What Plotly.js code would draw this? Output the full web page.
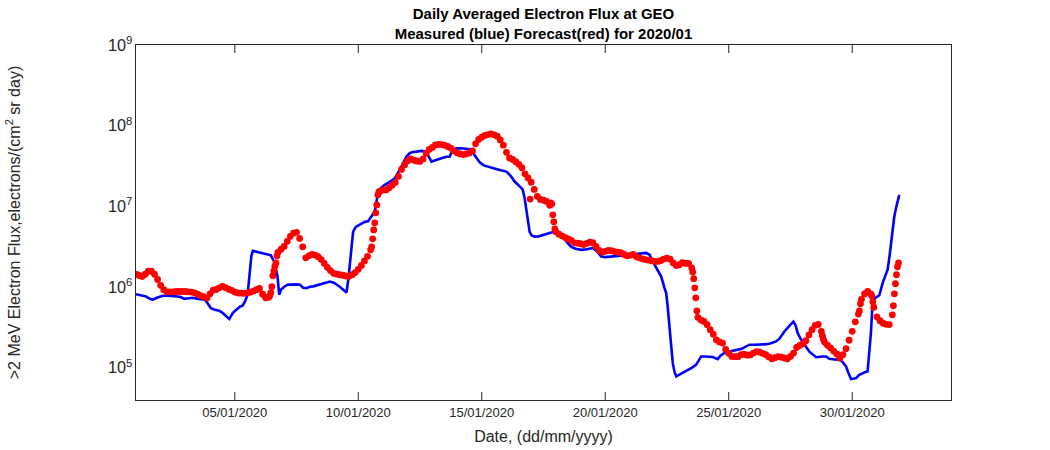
<!DOCTYPE html>
<html>
<head>
<meta charset="utf-8">
<script src="https://cdn.plot.ly/plotly-3.0.1.min.js"></script>
<style>html,body{margin:0;padding:0;background:#fff;}#chart{width:1050px;height:450px;}</style>
</head>
<body>
<div id="chart"></div>
<script>
// Measured flux (blue): day-of-January (fractional, 1.0 = 01/01 00:00) and value
var blueDays = [1.000,1.283,1.405,1.566,1.676,1.850,2.080,2.294,2.618,2.780,
2.954,3.104,3.294,3.468,3.698,3.791,3.913,4.034,4.196,4.370,
4.479,4.641,4.774,4.924,5.045,5.207,5.316,5.409,5.519,5.571,
5.632,5.672,5.733,5.895,6.125,6.299,6.461,6.595,6.663,6.732,
6.797,6.866,6.999,7.149,7.270,7.363,7.513,7.634,7.768,7.905,
8.039,8.172,8.322,8.512,8.686,8.848,9.010,9.252,9.374,9.523,
9.596,9.657,9.718,9.791,9.900,10.061,10.264,10.397,10.506,10.668,
10.749,10.802,10.911,11.073,11.275,11.477,11.680,11.801,11.951,12.084,
12.206,12.355,12.557,12.691,12.812,12.962,13.136,13.366,13.540,13.702,
13.836,13.985,14.175,14.350,14.511,14.645,14.794,14.916,15.078,15.252,
15.482,15.725,15.846,15.996,16.170,16.332,16.494,16.655,16.736,16.805,
16.878,16.939,17.019,17.141,17.303,17.477,17.667,17.816,17.950,18.071,
18.221,18.354,18.476,18.625,18.799,19.030,19.244,19.499,19.689,19.839,
20.013,20.308,20.579,20.822,20.984,21.307,21.659,21.793,21.926,22.076,
22.266,22.400,22.468,22.521,22.602,22.683,22.735,22.804,22.873,23.006,
23.140,23.290,23.411,23.532,23.682,23.775,23.884,24.058,24.220,24.354,
24.556,24.665,24.827,25.029,25.231,25.502,25.676,25.838,26.040,26.243,
26.445,26.647,26.769,26.918,27.052,27.254,27.456,27.618,27.699,27.792,
27.901,27.994,28.144,28.265,28.536,28.670,28.804,28.941,29.074,29.277,
29.479,29.600,29.750,29.843,29.952,30.045,30.155,30.288,30.409,30.559,
30.624,30.693,30.761,30.826,30.935,31.028,31.097,31.231,31.340,31.433,
31.502,31.570,31.623,31.704,31.785,31.906];
var blueFlux = [8.14e5,7.79e5,7.63e5,7.15e5,6.95e5,7.36e5,7.79e5,7.83e5,7.68e5,7.57e5,
7.15e5,7.25e5,7.36e5,7.19e5,6.95e5,6.95e5,6.20e5,5.48e5,5.23e5,5.08e5,
4.87e5,4.41e5,4.01e5,4.80e5,5.23e5,5.70e5,5.86e5,6.57e5,8.03e5,1.13e6,
1.73e6,2.44e6,2.81e6,2.73e6,2.65e6,2.58e6,2.47e6,2.06e6,1.64e6,1.34e6,
8.03e5,9.24e5,1.01e6,1.07e6,1.07e6,1.08e6,1.08e6,1.07e6,9.79e5,9.70e5,
1.01e6,1.02e6,1.05e6,1.07e6,1.13e6,1.17e6,1.13e6,1.01e6,9.37e5,8.57e5,
1.23e6,1.98e6,3.06e6,4.83e6,5.57e6,5.90e6,6.43e6,6.52e6,7.21e6,8.61e6,
1.20e7,1.46e7,1.69e7,1.85e7,2.01e7,2.23e7,2.83e7,3.36e7,4.14e7,4.56e7,
4.73e7,4.77e7,4.87e7,4.80e7,4.35e7,3.59e7,3.71e7,3.95e7,4.10e7,4.14e7,
5.11e7,5.23e7,5.26e7,5.15e7,5.11e7,4.60e7,3.99e7,3.51e7,3.22e7,3.09e7,
2.96e7,2.83e7,2.79e7,2.70e7,2.39e7,2.03e7,1.82e7,1.62e7,1.27e7,9.06e6,
6.43e6,4.83e6,4.37e6,4.22e6,4.25e6,4.44e6,4.63e6,4.73e6,4.83e6,4.57e6,
4.22e6,3.96e6,3.53e6,3.15e6,2.98e6,2.89e6,2.94e6,3.04e6,2.73e6,2.39e6,
2.35e6,2.39e6,2.47e6,2.51e6,2.51e6,2.58e6,2.65e6,2.51e6,2.07e6,1.73e6,
1.35e6,9.70e5,8.40e5,6.03e5,3.13e5,1.67e5,1.14e5,8.92e4,7.80e4,8.19e4,
8.60e4,9.18e4,9.58e4,1.01e5,1.09e5,1.24e5,1.38e5,1.38e5,1.37e5,1.36e5,
1.28e5,1.41e5,1.53e5,1.60e5,1.64e5,1.70e5,1.82e5,1.93e5,1.93e5,1.93e5,
1.95e5,1.98e5,2.04e5,2.12e5,2.29e5,2.81e5,3.31e5,3.74e5,3.41e5,2.69e5,
2.32e5,2.12e5,1.77e5,1.58e5,1.35e5,1.37e5,1.38e5,1.38e5,1.29e5,1.27e5,
1.26e5,1.19e5,1.04e5,8.67e4,7.24e4,7.31e4,7.45e4,8.19e4,8.55e4,8.92e4,
9.00e4,1.45e5,2.79e5,6.76e5,7.36e5,7.63e5,7.91e5,1.12e6,1.38e6,1.64e6,
2.30e6,3.63e6,4.83e6,7.48e6,9.86e6,1.39e7];

// Forecast flux (red): 3-hourly values starting 01/01/2020 00:00 (one row per day)
var redStepHours = 3;
var redFlux = [
1.44e6,1.39e6,1.35e6,1.44e6,1.57e6,1.57e6,1.44e6,1.24e6,
1.05e6,9.29e5,8.73e5,8.73e5,8.73e5,8.80e5,8.80e5,8.80e5,
8.80e5,8.73e5,8.66e5,8.48e5,8.14e5,7.83e5,7.57e5,7.29e5,
8.25e5,9.12e5,9.32e5,9.79e5,1.02e6,9.84e5,9.42e5,9.10e5,
8.66e5,8.45e5,8.40e5,8.37e5,8.48e5,8.63e5,8.90e5,9.29e5,
9.60e5,8.14e5,7.36e5,7.47e5,1.01e6,1.81e6,2.69e6,2.95e6,
3.18e6,3.69e6,4.25e6,4.67e6,4.77e6,4.01e6,3.15e6,2.30e6,
2.44e6,2.53e6,2.49e6,2.38e6,2.19e6,1.96e6,1.75e6,1.60e6,
1.48e6,1.45e6,1.42e6,1.40e6,1.37e6,1.36e6,1.42e6,1.51e6,
1.66e6,1.85e6,2.11e6,2.40e6,2.89e6,5.11e6,1.04e7,1.53e7,
1.60e7,1.60e7,1.70e7,1.83e7,1.98e7,2.35e7,2.87e7,3.26e7,
3.66e7,3.87e7,3.73e7,3.65e7,3.61e7,3.87e7,4.53e7,5.08e7,
5.37e7,5.78e7,5.86e7,5.81e7,5.73e7,5.52e7,5.28e7,4.87e7,
4.61e7,4.47e7,4.39e7,4.46e7,4.60e7,4.87e7,5.95e7,6.76e7,
7.20e7,7.57e7,7.75e7,7.91e7,7.70e7,7.42e7,6.66e7,5.74e7,
4.68e7,3.99e7,3.82e7,3.58e7,3.32e7,3.01e7,2.53e7,2.25e7,
1.99e7,1.62e7,1.33e7,1.22e7,1.19e7,1.15e7,1.03e7,7.86e6,
4.83e6,4.52e6,4.31e6,4.10e6,3.94e6,3.78e6,3.53e6,3.50e6,
3.45e6,3.36e6,3.48e6,3.61e6,3.55e6,3.20e6,2.84e6,2.71e6,
2.77e6,2.84e6,2.82e6,2.75e6,2.71e6,2.67e6,2.55e6,2.44e6,
2.47e6,2.53e6,2.39e6,2.30e6,2.24e6,2.19e6,2.15e6,2.12e6,
2.08e6,2.08e6,2.13e6,2.22e6,2.28e6,2.22e6,1.99e6,1.85e6,
1.89e6,2.01e6,1.96e6,1.97e6,1.73e6,9.79e5,4.22e5,3.90e5,
3.75e5,3.42e5,2.96e5,2.60e5,2.22e5,2.09e5,2.02e5,1.69e5,
1.51e5,1.38e5,1.37e5,1.37e5,1.45e5,1.47e5,1.43e5,1.44e5,
1.52e5,1.58e5,1.56e5,1.51e5,1.45e5,1.36e5,1.29e5,1.33e5,
1.37e5,1.35e5,1.32e5,1.29e5,1.38e5,1.52e5,1.78e5,1.89e5,
1.97e5,2.16e5,2.55e5,2.96e5,3.35e5,3.44e5,2.83e5,2.08e5,
1.90e5,1.76e5,1.61e5,1.48e5,1.32e5,1.45e5,1.72e5,2.19e5,
2.83e5,3.71e5,4.63e5,7.05e5,8.21e5,8.86e5,8.25e5,5.62e5,
4.28e5,3.82e5,3.56e5,3.45e5,3.43e5,4.53e5,1.10e6,1.99e6];

// Extra hourly forecast points on the steep stretches (day-of-January, value)
var redExtraDays = [6.417,6.458,6.542,6.583,6.667,6.708,
10.542,10.583,10.667,10.708,10.792,10.833,
16.958,17.792,17.833,17.917,17.958,
23.542,23.583,23.667,23.708,
28.792,28.833,
30.292,30.333,30.792,30.833,
31.667,31.708,31.792,31.833];
var redExtraFlux = [7.79e5,8.48e5,1.38e6,1.59e6,1.99e6,2.44e6,
3.15e6,3.96e6,6.25e6,8.32e6,1.39e7,1.51e7,
1.23e7,1.10e7,1.07e7,6.43e6,5.27e6,
1.54e6,1.27e6,7.36e5,5.08e5,
2.49e5,2.25e5,
5.08e5,6.20e5,7.79e5,6.57e5,
5.86e5,8.25e5,1.42e6,1.78e6];

var tickDays = [5,10,15,20,25,30];
var tickLabels = ['05/01/2020','10/01/2020','15/01/2020','20/01/2020','25/01/2020','30/01/2020'];

var DAY = 86400000;
var T0 = Date.UTC(2020,0,1);
function dayToMs(d){ return T0 + (d-1)*DAY; }

var blueX = blueDays.map(dayToMs);
var redX = redFlux.map(function(v,i){ return T0 + i*redStepHours*3600000; });
redX = redX.concat(redExtraDays.map(dayToMs));
var redY = redFlux.concat(redExtraFlux);

var FONT = 'Liberation Sans, Arial, Helvetica, sans-serif';
var AX = '#262626';
var YRANGE = [4.6, 9];
var PW = 815, PH = 355; // plot area size in px

// Tick marks (MATLAB style, inside, on all four sides) as shapes
var shapes = [];
function hTick(logv, len){
  shapes.push({type:'line', xref:'paper', yref:'y', x0:0, x1:len/PW, y0:logv, y1:logv, line:{color:AX, width:1}});
  shapes.push({type:'line', xref:'paper', yref:'y', x0:1-len/PW, x1:1, y0:logv, y1:logv, line:{color:AX, width:1}});
}
for (var e = 4; e <= 9; e++) {
  if (e >= 5) hTick(e, 8);
  for (var m = 2; m <= 9; m++) {
    var lv = e + Math.log10(m);
    if (lv > YRANGE[0] && lv < YRANGE[1]) hTick(lv, 4);
  }
}
tickDays.forEach(function(d){
  var xv = dayToMs(d);
  shapes.push({type:'line', xref:'x', yref:'paper', x0:xv, x1:xv, y0:0, y1:8/PH, line:{color:AX, width:1}});
  shapes.push({type:'line', xref:'x', yref:'paper', x0:xv, x1:xv, y0:1-8/PH, y1:1, line:{color:AX, width:1}});
});

var traces = [
 {x: blueX, y: blueFlux, type:'scatter', mode:'lines', line:{color:'#0000ff', width:2.6}, hoverinfo:'skip', showlegend:false},
 {x: redX, y: redY, type:'scatter', mode:'markers', marker:{color:'#ff0000', size:6.8, line:{width:0}}, hoverinfo:'skip', showlegend:false}
];

var layout = {
 width:1050, height:450,
 margin:{l:136, r:99, t:45, b:50},
 paper_bgcolor:'#ffffff', plot_bgcolor:'#ffffff',
 font:{family:FONT, color:AX, size:13},
 shapes: shapes,
 title:{text:'<b>Daily Averaged Electron Flux at GEO</b><br><b>Measured (blue) Forecast(red) for 2020/01</b>',
        font:{family:FONT, size:15, color:'#000000'}, x:0.5, xref:'paper', xanchor:'center',
        y:1, yref:'paper', yanchor:'bottom', pad:{b:26}},
 xaxis:{type:'date', range:[T0, Date.UTC(2020,1,3)],
        tickvals: tickDays.map(dayToMs), ticktext: tickLabels,
        ticks:'', showline:true, linecolor:AX, linewidth:1, mirror:true,
        showgrid:false, zeroline:false,
        tickfont:{family:FONT, size:13, color:AX},
        title:{text:'Date, (dd/mm/yyyy)', font:{family:FONT, size:16, color:AX}, standoff:12}},
 yaxis:{type:'log', range:YRANGE, dtick:1, exponentformat:'power', showexponent:'all',
        ticks:'', showline:true, linecolor:AX, linewidth:1, mirror:true,
        showgrid:false, zeroline:false,
        tickfont:{family:FONT, size:13, color:AX},
        title:{text:'>2 MeV Electron Flux,electrons/(cm<sup>2</sup> sr day)', font:{family:FONT, size:16, color:AX}, standoff:83}}
};

Plotly.newPlot('chart', traces, layout, {staticPlot:true, displayModeBar:false});
</script>
</body>
</html>
